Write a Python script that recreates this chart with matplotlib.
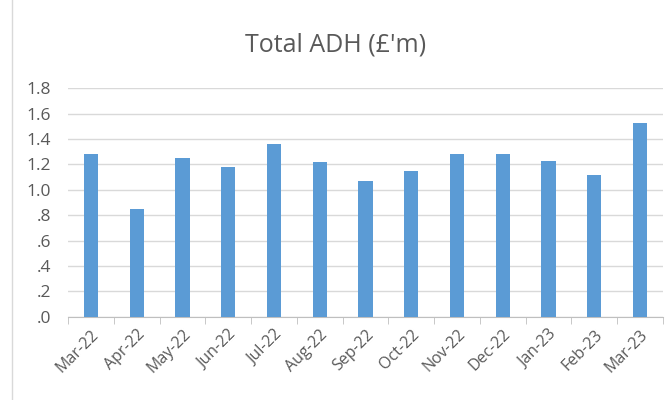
import numpy as np
import matplotlib.pyplot as plt
from matplotlib.ticker import FuncFormatter, FixedLocator

# --- data ---
months = ["Mar-22", "Apr-22", "May-22", "Jun-22", "Jul-22", "Aug-22", "Sep-22",
          "Oct-22", "Nov-22", "Dec-22", "Jan-23", "Feb-23", "Mar-23"]
adh = [1.28, 0.85, 1.25, 1.18, 1.36, 1.22, 1.07, 1.15, 1.28, 1.28, 1.23, 1.12, 1.53]

plt.rcParams['font.family'] = ['Open Sans', 'DejaVu Sans']
grey = "#595959"

fig = plt.figure(figsize=(6.72, 4.0), dpi=100)
ax = fig.add_axes([68 / 672, 1 - 316.7 / 400, (663 - 68) / 672, (316.7 - 88.3) / 400])

x = np.arange(len(months))
ax.bar(x, adh, width=0.31, color="#5B9BD5", zorder=3)

ax.set_xlim(-0.5, len(months) - 0.5)
ax.set_ylim(0, 1.8)
ax.set_yticks(np.arange(0, 1.81, 0.2))
ax.yaxis.set_major_formatter(FuncFormatter(lambda v, p: f"{v:.1f}".lstrip("0") if v < 1 else f"{v:.1f}"))
ax.grid(axis="y", color="#d9d9d9", linewidth=1, zorder=0)

ax.set_xticks(x)
ax.set_xticklabels(months, rotation=45, ha="right", rotation_mode="anchor")
ax.xaxis.set_minor_locator(FixedLocator(np.arange(-0.5, len(months), 1)))
ax.tick_params(axis="x", which="major", length=0, pad=7, labelsize=11.5, colors=grey)
ax.tick_params(axis="x", which="minor", length=5, color="#bfbfbf")
ax.tick_params(axis="y", length=0, pad=12, labelsize=12.5, colors=grey)

for s in ["top", "right", "left"]:
    ax.spines[s].set_visible(False)
ax.spines["bottom"].set_color("#bfbfbf")

fig.text(0.5, 1 - 45 / 400, "Total ADH (£'m)", ha="center", va="center",
         fontsize=18, color=grey)

# chart border at left edge
fig.add_artist(plt.Line2D([12 / 672, 12 / 672], [0, 1], color="#d9d9d9", linewidth=1))

plt.savefig("out.png", dpi=100)
